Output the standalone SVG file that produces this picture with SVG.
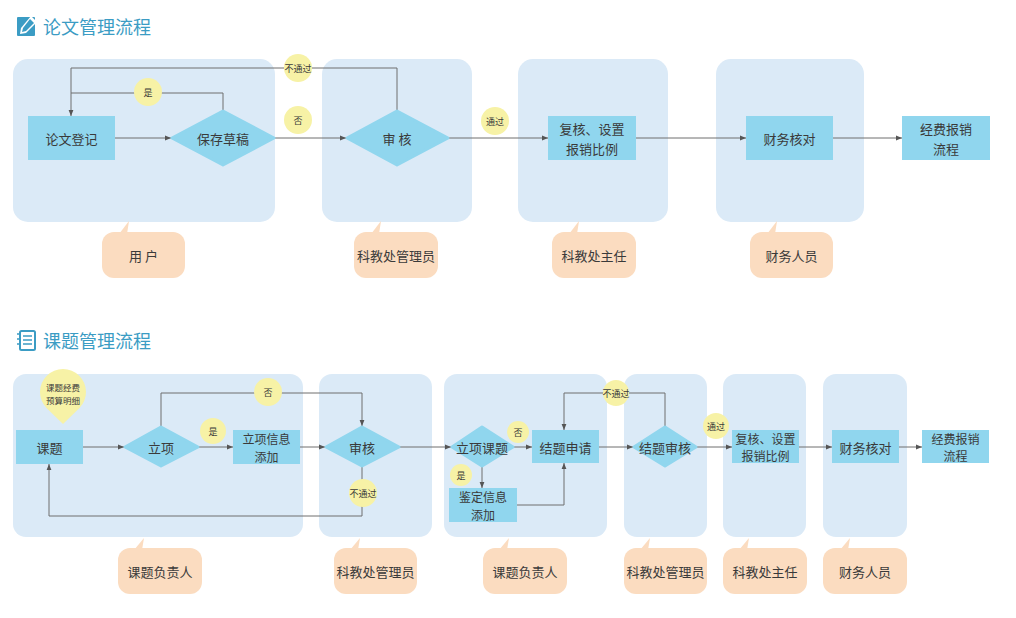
<svg xmlns="http://www.w3.org/2000/svg" width="1016" height="618" viewBox="0 0 1016 618">
<defs>
<marker id="arr" viewBox="0 0 10 10" refX="10" refY="5" markerWidth="6" markerHeight="6" orient="auto" markerUnits="userSpaceOnUse">
<path d="M0,1 L10,5 L0,9 Z" fill="#555"/>
</marker>
</defs>
<style>
text{font-family:"Noto Sans CJK SC","Noto Sans",sans-serif;text-anchor:middle;dominant-baseline:central;fill:#3a3a3a}
.title{font-size:18px;fill:#3b9cc4;text-anchor:start}
.lane{fill:#dbeaf7}
.node{fill:#90d6ee}
.dia{fill:#90d6ee;stroke:#90d6ee;stroke-width:3;stroke-linejoin:round}
.call{fill:#fbdcc0}
.lbl{fill:#f7f2a6}
.t13{font-size:13px}
.t12{font-size:12px}
.t9{font-size:9px}
.t8{font-size:8.5px}
.line{fill:none;stroke:#6f6f6f;stroke-width:1}
.arrow{marker-end:url(#arr)}
</style>
<rect width="1016" height="618" fill="#ffffff"/>

<!-- Titles -->
<g id="title1">
<rect x="17" y="17" width="18" height="19" rx="1" fill="#3b9cc4"/>
<path d="M31,16 L37,22 L26,33 L20,34 L21,28 Z" fill="#ffffff"/>
<path d="M30,19 L34,23 L26,31 L22,32 L23,28 Z" fill="#3b9cc4"/>
<text class="title" x="43" y="26">论文管理流程</text>
</g>
<g id="title2">
<rect x="20" y="331" width="15" height="19" rx="1.5" fill="none" stroke="#3b9cc4" stroke-width="2"/>
<path d="M23,336 H32 M23,340 H32 M23,344 H32" stroke="#3b9cc4" stroke-width="1.6"/>
<path d="M17,334 H21 M17,339 H21 M17,344 H21" stroke="#3b9cc4" stroke-width="1.6"/>
<text class="title" x="43" y="340">课题管理流程</text>
</g>

<!-- Top lanes -->
<g id="lanes-top">
<rect class="lane" x="13" y="59" width="262" height="163" rx="15"/>
<rect class="lane" x="322" y="59" width="150" height="163" rx="15"/>
<rect class="lane" x="518" y="59" width="150" height="163" rx="15"/>
<rect class="lane" x="716" y="59" width="148" height="163" rx="15"/>
</g>

<!-- Bottom lanes -->
<g id="lanes-bottom">
<rect class="lane" x="13" y="374" width="290" height="163" rx="13"/>
<rect class="lane" x="319" y="374" width="113" height="163" rx="13"/>
<rect class="lane" x="444" y="374" width="163" height="163" rx="13"/>
<rect class="lane" x="624" y="374" width="83" height="163" rx="13"/>
<rect class="lane" x="723" y="374" width="83" height="163" rx="13"/>
<rect class="lane" x="823" y="374" width="84" height="163" rx="13"/>
</g>

<!-- Connectors -->
<g id="connectors">
<path class="line arrow" d="M115,138 H171"/>
<path class="line arrow" d="M275,138 H346"/>
<path class="line arrow" d="M449,138 H548"/>
<path class="line arrow" d="M636,138 H746"/>
<path class="line arrow" d="M833,138 H902"/>
<path class="line" d="M223,110 V93 H71"/>
<path class="line arrow" d="M397,110 V68 H71 V116"/>

<path class="line arrow" d="M83,447 H124"/>
<path class="line arrow" d="M199,447 H233"/>
<path class="line arrow" d="M300,447 H325"/>
<path class="line arrow" d="M161,426 V393 H362 V426"/>
<path class="line arrow" d="M362,467 V516 H49 V464"/>
<path class="line arrow" d="M400,447 H451"/>
<path class="line arrow" d="M514,447 H532"/>
<path class="line arrow" d="M482,467 V488"/>
<path class="line arrow" d="M517,505 H564 V463"/>
<path class="line arrow" d="M599,447 H633"/>
<path class="line arrow" d="M665,426 V393 H564 V430"/>
<path class="line arrow" d="M697,447 H732"/>
<path class="line arrow" d="M799,447 H832"/>
<path class="line arrow" d="M899,447 H922"/>
</g>

<!-- Top nodes -->
<g id="n-lunwendengji"><rect class="node" x="28" y="116" width="87" height="44"/><text class="t13" x="71.5" y="138">论文登记</text></g>
<g id="n-baocun"><polygon class="dia" points="223,111 274,138 223,165 172,138"/><text class="t13" x="223" y="138">保存草稿</text></g>
<g id="n-shenhe1"><polygon class="dia" points="397,111 448,138 397,165 347,138"/><text class="t13" x="397" y="138">审 核</text></g>
<g id="n-fuhe1"><rect class="node" x="548" y="116" width="88" height="44"/><text class="t13" x="592" y="128.5">复核、设置</text><text class="t13" x="592" y="148.5">报销比例</text></g>
<g id="n-caiwu1"><rect class="node" x="746" y="116" width="87" height="44"/><text class="t13" x="789.5" y="138">财务核对</text></g>
<g id="n-jingfei1"><rect class="node" x="902" y="116" width="88" height="44"/><text class="t13" x="946" y="128.5">经费报销</text><text class="t13" x="946" y="148.5">流程</text></g>

<!-- Top labels -->
<g id="l-butongguo1"><circle class="lbl" cx="298" cy="68" r="14"/><text class="t9" x="298" y="68">不通过</text></g>
<g id="l-shi1"><circle class="lbl" cx="148" cy="92" r="14"/><text class="t9" x="148" y="92">是</text></g>
<g id="l-fou1"><circle class="lbl" cx="298" cy="120" r="14"/><text class="t9" x="298" y="120">否</text></g>
<g id="l-tongguo1"><circle class="lbl" cx="495" cy="121" r="14"/><text class="t9" x="495" y="121">通过</text></g>

<!-- Top role callouts -->
<g id="r-yonghu"><polygon class="call" points="119,234 129,221 127,234"/><rect class="call" x="102" y="232" width="83" height="46" rx="12"/><text class="t13" x="143.5" y="255">用 户</text></g>
<g id="r-kjcgly1"><polygon class="call" points="371,234 381,221 379,234"/><rect class="call" x="354" y="232" width="84" height="46" rx="12"/><text class="t13" x="396" y="255">科教处管理员</text></g>
<g id="r-kjczr1"><polygon class="call" points="569,234 579,221 577,234"/><rect class="call" x="552" y="232" width="84" height="46" rx="12"/><text class="t13" x="594" y="255">科教处主任</text></g>
<g id="r-cwry1"><polygon class="call" points="767,234 777,221 775,234"/><rect class="call" x="750" y="232" width="83" height="46" rx="12"/><text class="t13" x="791.5" y="255">财务人员</text></g>

<!-- Bottom nodes -->
<g id="n-keti"><rect class="node" x="16" y="430" width="67" height="34"/><text class="t13" x="49.5" y="447">课题</text></g>
<g id="n-pin"><path d="M63,424 L46.5,408 A23,23 0 1 1 79.5,408 Z" fill="#f7f2a6"/><text class="t8" x="63" y="387">课题经费</text><text class="t8" x="63" y="399.5">预算明细</text></g>
<g id="n-lixiang"><polygon class="dia" points="161,427 198,447 161,466 125,447"/><text class="t13" x="161" y="447">立项</text></g>
<g id="n-lxxx"><rect class="node" x="233" y="430" width="67" height="34"/><text class="t12" x="266.5" y="438.5">立项信息</text><text class="t12" x="266.5" y="456">添加</text></g>
<g id="n-shenhe2"><polygon class="dia" points="362,427 399,447 362,466 326,447"/><text class="t13" x="362" y="447">审核</text></g>
<g id="n-lxkt"><polygon class="dia" points="482,427 513,447 482,466 452,447"/><text class="t13" x="482" y="447">立项课题</text></g>
<g id="n-jtsq"><rect class="node" x="532" y="430" width="67" height="33"/><text class="t13" x="565.5" y="447">结题申请</text></g>
<g id="n-jdxx"><rect class="node" x="449" y="488" width="68" height="34"/><text class="t12" x="483" y="496.5">鉴定信息</text><text class="t12" x="483" y="514">添加</text></g>
<g id="n-jtsh"><polygon class="dia" points="665,427 696,447 665,466 634,447"/><text class="t13" x="665" y="447">结题审核</text></g>
<g id="n-fuhe2"><rect class="node" x="732" y="430" width="67" height="33"/><text class="t12" x="765.5" y="438">复核、设置</text><text class="t12" x="765.5" y="455.5">报销比例</text></g>
<g id="n-caiwu2"><rect class="node" x="832" y="430" width="67" height="33"/><text class="t13" x="865.5" y="447">财务核对</text></g>
<g id="n-jingfei2"><rect class="node" x="922" y="430" width="67" height="33"/><text class="t12" x="955.5" y="438">经费报销</text><text class="t12" x="955.5" y="455.5">流程</text></g>

<!-- Bottom labels -->
<g id="l-shi2"><circle class="lbl" cx="213" cy="431" r="13"/><text class="t9" x="213" y="431">是</text></g>
<g id="l-fou2"><circle class="lbl" cx="268" cy="392" r="14"/><text class="t9" x="268" y="392">否</text></g>
<g id="l-butongguo2"><circle class="lbl" cx="363" cy="493" r="14"/><text class="t9" x="363" y="493">不通过</text></g>
<g id="l-fou3"><circle class="lbl" cx="518" cy="432" r="11"/><text class="t9" x="518" y="432">否</text></g>
<g id="l-shi3"><circle class="lbl" cx="461" cy="475" r="11"/><text class="t9" x="461" y="475">是</text></g>
<g id="l-butongguo3"><circle class="lbl" cx="616" cy="393" r="13"/><text class="t9" x="616" y="393">不通过</text></g>
<g id="l-tongguo2"><circle class="lbl" cx="716" cy="426" r="13"/><text class="t9" x="716" y="426">通过</text></g>

<!-- Bottom role callouts -->
<g id="r-ktfzr1"><polygon class="call" points="134,550 144,538 142,550"/><rect class="call" x="118" y="548" width="84" height="46" rx="12"/><text class="t13" x="160" y="571">课题负责人</text></g>
<g id="r-kjcgly2"><polygon class="call" points="350,550 360,538 358,550"/><rect class="call" x="334" y="548" width="83" height="46" rx="12"/><text class="t13" x="375.5" y="571">科教处管理员</text></g>
<g id="r-ktfzr2"><polygon class="call" points="499,550 509,538 507,550"/><rect class="call" x="483" y="548" width="84" height="46" rx="12"/><text class="t13" x="525" y="571">课题负责人</text></g>
<g id="r-kjcgly3"><polygon class="call" points="640,550 650,538 648,550"/><rect class="call" x="624" y="548" width="83" height="46" rx="12"/><text class="t13" x="665.5" y="571">科教处管理员</text></g>
<g id="r-kjczr2"><polygon class="call" points="739,550 749,538 747,550"/><rect class="call" x="723" y="548" width="84" height="46" rx="12"/><text class="t13" x="765" y="571">科教处主任</text></g>
<g id="r-cwry2"><polygon class="call" points="840,550 850,538 848,550"/><rect class="call" x="823" y="548" width="84" height="46" rx="12"/><text class="t13" x="865" y="571">财务人员</text></g>
</svg>
